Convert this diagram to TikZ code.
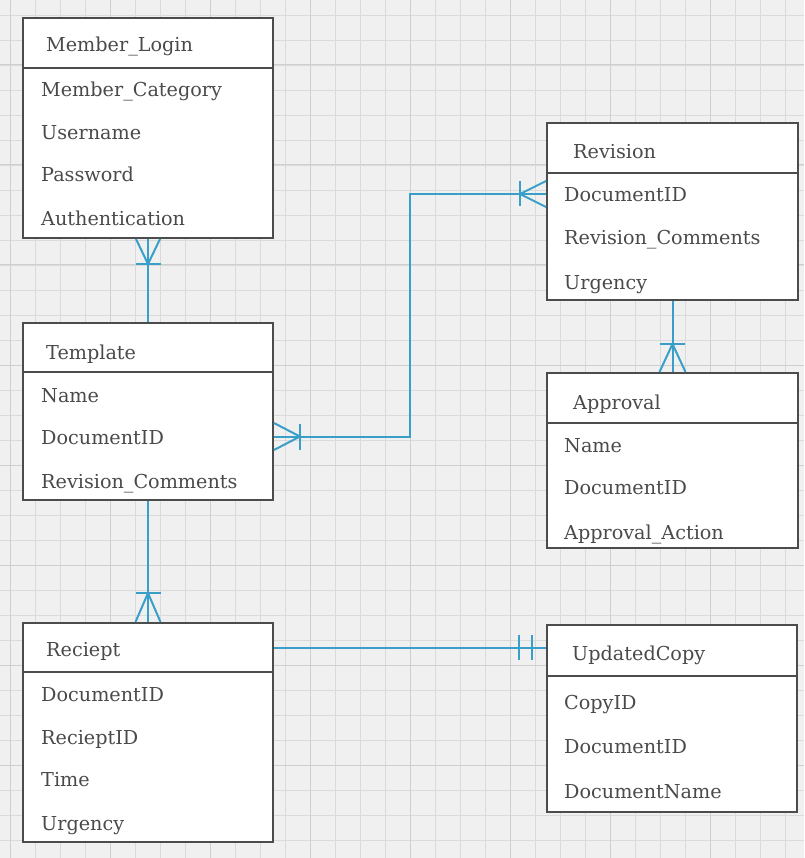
\documentclass[tikz,border=0pt]{standalone}
\usepackage{fontspec}
\setmainfont{DejaVu Serif}
\usetikzlibrary{calc}
\definecolor{bgc}{HTML}{F0F0F0}
\definecolor{gridminor}{HTML}{DADADA}
\definecolor{gridmajor}{HTML}{CFCFCF}
\definecolor{boxline}{HTML}{4C4C4C}
\definecolor{txtc}{HTML}{4A4A4A}
\definecolor{connc}{HTML}{3A9FC8}
\tikzset{
  tbl/.style={draw=boxline, line width=2pt, fill=white, anchor=north west, minimum width=250pt, inner sep=0pt},
  hdr/.style={draw=boxline, line width=2pt, fill=white, anchor=north west, minimum width=250pt, minimum height=50pt, inner sep=0pt},
  attr/.style={anchor=base west, inner sep=0pt, text=txtc, font=\fontsize{19.2}{22}\selectfont},
  conn/.style={draw=connc, line width=2pt},
}
\begin{document}
\begin{tikzpicture}[x=1pt, y=-1pt]
\useasboundingbox (0,0) rectangle (804,858);
\fill[bgc] (0,0) rectangle (804,858);
% grid
\foreach \gx in {10,35,...,804} {\draw[gridminor, line width=0.8pt] (\gx,0) -- (\gx,858);}
\foreach \gy in {15,40,...,858} {\draw[gridminor, line width=0.8pt] (0,\gy) -- (804,\gy);}
\foreach \gx in {10,110,...,804} {\draw[gridmajor, line width=1pt] (\gx,0) -- (\gx,858);}
\foreach \gy in {65,165,...,858} {\draw[gridmajor, line width=1pt] (0,\gy) -- (804,\gy);}

% Member_Login
\node[tbl, minimum height=220pt] (ml) at (22,17) {};
\node[hdr] (mlh) at (22,17) {};
\node[attr] (mlt) at (46,52) {Member\_Login};
\node[attr] (ml1) at (41,97) {Member\_Category};
\node[attr] (ml2) at (41,140) {Username};
\node[attr] (ml3) at (41,182) {Password};
\node[attr] (ml4) at (41,226) {Authentication};

% Template
\node[tbl, minimum height=177pt] (tp) at (22,322) {};
\node[hdr, minimum height=49pt] (tph) at (22,322) {};
\node[attr] (tpt) at (46,359) {Template};
\node[attr] (tp1) at (41,402) {Name};
\node[attr] (tp2) at (41,444) {DocumentID};
\node[attr] (tp3) at (41,488) {Revision\_Comments};

% Reciept
\node[tbl, minimum height=219pt] (rc) at (22,622) {};
\node[hdr, minimum height=49pt] (rch) at (22,622) {};
\node[attr] (rct) at (46,656) {Reciept};
\node[attr] (rc1) at (41,701) {DocumentID};
\node[attr] (rc2) at (41,744) {RecieptID};
\node[attr] (rc3) at (41,786) {Time};
\node[attr] (rc4) at (41,830) {Urgency};

% Revision
\node[tbl, minimum width=251pt, minimum height=177pt] (rv) at (546,122) {};
\node[hdr, minimum width=251pt] (rvh) at (546,122) {};
\node[attr] (rvt) at (573,159) {Revision};
\node[attr] (rv1) at (564,202) {DocumentID};
\node[attr] (rv2) at (564,245) {Revision\_Comments};
\node[attr] (rv3) at (564,289) {Urgency};

% Approval
\node[tbl, minimum width=251pt, minimum height=175pt] (ap) at (546,372) {};
\node[hdr, minimum width=251pt] (aph) at (546,372) {};
\node[attr] (apt) at (573,409) {Approval};
\node[attr] (ap1) at (564,452) {Name};
\node[attr] (ap2) at (564,494) {DocumentID};
\node[attr] (ap3) at (564,539) {Approval\_Action};

% UpdatedCopy
\node[tbl, minimum height=187pt] (uc) at (546,624) {};
\node[hdr, minimum height=51pt] (uch) at (546,624) {};
\node[attr] (uct) at (572,660) {UpdatedCopy};
\node[attr] (uc1) at (564,709) {CopyID};
\node[attr] (uc2) at (564,753) {DocumentID};
\node[attr] (uc3) at (564,798) {DocumentName};

% connectors
% Member_Login -- Template
\draw[conn] (ml.south) -- (tp.north);
\draw[conn] ($(ml.south)+(-12,0)$) -- ($(ml.south)+(0,25)$) -- ($(ml.south)+(12,0)$);
\draw[conn] ($(ml.south)+(-12.5,25)$) -- ++(25,0);

% Template -- Revision
\coordinate (tpR) at ($(tp.east)+(0,25)$);
\coordinate (rvL) at ($(rv.west)+(0,-17.5)$);
\draw[conn] (tpR) -- ++(136,0) |- (rvL);
\draw[conn] ($(tpR)+(0,-13.5)$) -- ($(tpR)+(26,0)$) -- ($(tpR)+(0,13.5)$);
\draw[conn] ($(tpR)+(26,-13)$) -- ++(0,26);
\draw[conn] ($(rvL)+(0,-13)$) -- ($(rvL)+(-26,0)$) -- ($(rvL)+(0,13)$);
\draw[conn] ($(rvL)+(-26,-12.5)$) -- ++(0,25);

% Revision -- Approval
\draw[conn] (rv.south) -- (ap.north);
\draw[conn] ($(ap.north)+(-13,0)$) -- ($(ap.north)+(0,-28)$) -- ($(ap.north)+(13,0)$);
\draw[conn] ($(ap.north)+(-12.5,-28)$) -- ++(25,0);

% Template -- Reciept
\draw[conn] (tp.south) -- (rc.north);
\draw[conn] ($(rc.north)+(-12.5,0)$) -- ($(rc.north)+(0,-29)$) -- ($(rc.north)+(12.5,0)$);
\draw[conn] ($(rc.north)+(-12.5,-29)$) -- ++(25,0);

% Reciept -- UpdatedCopy
\coordinate (ucL) at (rch.east -| uch.west);
\draw[conn] (rch.east) -- (ucL);
\draw[conn] ($(ucL)+(-27,-12.5)$) -- ++(0,25);
\draw[conn] ($(ucL)+(-14,-12.5)$) -- ++(0,25);
\end{tikzpicture}
\end{document}
